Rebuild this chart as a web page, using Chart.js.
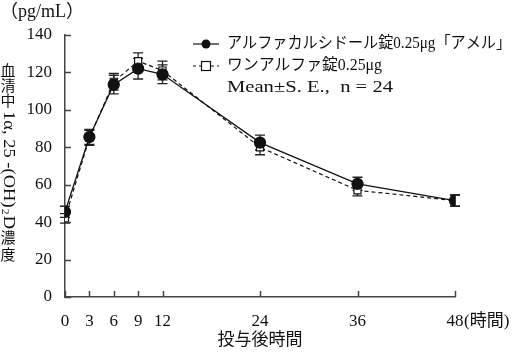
<!DOCTYPE html>
<html>
<head>
<meta charset="utf-8">
<script src="https://cdn.jsdelivr.net/npm/chart.js@4/dist/chart.umd.min.js"></script>
<style>
  html, body { margin: 0; padding: 0; background: #fff; }
  #wrap { width: 514px; height: 352px; }
</style>
</head>
<body>
<div id="wrap"><canvas id="c" width="514" height="352"></canvas></div>
<script>
// 投与後時間 (h)
const hours = [0, 3, 6, 9, 12, 24, 36, 48];
const xTicks = [0, 3, 6, 9, 12, 24, 36, 48];
const yTicks = [0, 20, 40, 60, 80, 100, 120, 140];

// アルファカルシドール錠0.25μg「アメル」
const ameruMean = [45.5, 85.5, 113.5, 122, 119, 82.5, 60.5, 51.5];
const ameruSE = [3, 4, 5, 5.5, 5, 4, 3.5, 3];
// ワンアルファ錠0.25μg
const oneMean = [42, 85, 115, 126, 121, 80, 57, 51.5];
const oneSE = [2.5, 4, 4.5, 4.5, 5, 4, 3, 3];

const serif = '"Liberation Serif", "DejaVu Serif", "Noto Sans CJK JP", serif';
const axisColor = "#444";

function pts(means) {
  return hours.map((h, i) => ({ x: h, y: means[i] }));
}

// 幅を合わせて文字を描く
function fitText(ctx, text, x, y, width) {
  const w = ctx.measureText(text).width;
  ctx.save();
  ctx.translate(x, y);
  ctx.scale(width / w, 1);
  ctx.fillText(text, 0, 0);
  ctx.restore();
}

// 誤差棒・目盛・文字
const extras = {
  id: "extras",
  beforeDatasetsDraw(chart) {
    const { ctx, scales } = chart;
    const xs = scales.x, ys = scales.y;
    ctx.save();
    ctx.strokeStyle = "#222";
    ctx.lineWidth = 1.3;
    [[oneMean, oneSE], [ameruMean, ameruSE]].forEach(([m, se]) => {
      hours.forEach((h, i) => {
        const px = xs.getPixelForValue(h);
        const top = ys.getPixelForValue(m[i] + se[i]);
        const bot = ys.getPixelForValue(m[i] - se[i]);
        ctx.beginPath();
        ctx.moveTo(px, top); ctx.lineTo(px, bot);
        ctx.moveTo(px - 5, top); ctx.lineTo(px + 5, top);
        ctx.moveTo(px - 5, bot); ctx.lineTo(px + 5, bot);
        ctx.stroke();
      });
    });
    ctx.restore();
  },
  afterDraw(chart) {
    const { ctx, scales, chartArea } = chart;
    const xs = scales.x, ys = scales.y;
    ctx.save();
    // 内向きの目盛
    ctx.strokeStyle = axisColor;
    ctx.lineWidth = 1.5;
    ctx.beginPath();
    yTicks.forEach(v => {
      const py = Math.round(ys.getPixelForValue(v)) + 0.5;
      ctx.moveTo(chartArea.left, py); ctx.lineTo(chartArea.left + 6, py);
    });
    xTicks.forEach(v => {
      const px = Math.round(xs.getPixelForValue(v)) + 0.5;
      ctx.moveTo(px, chartArea.bottom); ctx.lineTo(px, chartArea.bottom - 6);
    });
    ctx.stroke();

    ctx.fillStyle = "#111";
    ctx.textBaseline = "middle";
    // 単位
    ctx.font = "18px " + serif;
    ctx.textAlign = "left";
    ctx.fillText("（pg/mL）", 0, 12);
    // (時間)
    ctx.font = "17px " + serif;
    ctx.fillText("(時間)", xs.getPixelForValue(48) + 9, 322);
    // x軸タイトル
    ctx.font = "17px " + serif;
    ctx.textAlign = "center";
    ctx.fillText("投与後時間", xs.getPixelForValue(24), 341);

    // y軸タイトル（縦書き）
    const cx = 8;
    ctx.font = "15px " + serif;
    ctx.textAlign = "center";
    ["血", "清", "中"].forEach((ch, i) => ctx.fillText(ch, cx, 72 + i * 15));
    ["濃", "度"].forEach((ch, i) => ctx.fillText(ch, cx, 239 + i * 17));
    ctx.save();
    ctx.translate(cx, 111);
    ctx.rotate(Math.PI / 2);
    ctx.font = "16px " + serif;
    const a = "1α, 25 -(OH)";
    const wa = ctx.measureText(a).width;
    ctx.font = "10px " + serif;
    const w2 = ctx.measureText("2").width;
    ctx.font = "16px " + serif;
    const wd = ctx.measureText("D").width;
    const k = 118 / (wa + w2 + wd + 2);
    ctx.scale(k, 1);
    ctx.textAlign = "left";
    ctx.fillText(a, 0, 0);
    ctx.font = "10px " + serif;
    ctx.fillText("2", wa + 1, 3);
    ctx.font = "16px " + serif;
    ctx.fillText("D", wa + w2 + 2, 0);
    ctx.restore();

    // 凡例
    const lx = 193, rows = [44, 66];
    ctx.lineWidth = 1.2;
    ctx.strokeStyle = "#111";
    ctx.beginPath();
    ctx.moveTo(lx, rows[0]); ctx.lineTo(lx + 26, rows[0]);
    ctx.stroke();
    ctx.beginPath();
    ctx.arc(lx + 13, rows[0], 4.5, 0, Math.PI * 2);
    ctx.fill();
    ctx.setLineDash([3, 3]);
    ctx.beginPath();
    ctx.moveTo(lx, rows[1]); ctx.lineTo(lx + 26, rows[1]);
    ctx.stroke();
    ctx.setLineDash([]);
    ctx.fillStyle = "#fff";
    ctx.fillRect(lx + 8.5, rows[1] - 4.5, 9, 9);
    ctx.strokeRect(lx + 8.5, rows[1] - 4.5, 9, 9);
    ctx.fillStyle = "#111";
    ctx.textAlign = "left";
    ctx.font = "16px " + serif;
    fitText(ctx, "アルファカルシドール錠0.25μg「アメル」", lx + 34, rows[0], 284);
    fitText(ctx, "ワンアルファ錠0.25μg", lx + 34, rows[1], 155);
    ctx.font = "17px " + serif;
    fitText(ctx, "Mean±S. E.,  n = 24", lx + 34, 88, 166);
    ctx.restore();
  }
};

new Chart(document.getElementById("c"), {
  type: "line",
  data: {
    datasets: [
      {
        label: "ワンアルファ錠0.25μg",
        data: pts(oneMean),
        borderColor: "#111",
        borderWidth: 1.2,
        borderDash: [4, 3],
        pointStyle: "rect",
        pointRadius: 5,
        pointBackgroundColor: "#fff",
        pointBorderColor: "#111",
        pointBorderWidth: 1.2,
        tension: 0,
        order: 2
      },
      {
        label: "アルファカルシドール錠0.25μg「アメル」",
        data: pts(ameruMean),
        borderColor: "#111",
        borderWidth: 1.3,
        pointStyle: "circle",
        pointRadius: 5.5,
        pointBackgroundColor: "#111",
        pointBorderColor: "#111",
        tension: 0,
        order: 1
      }
    ]
  },
  options: {
    responsive: false,
    animation: false,
    layout: { padding: { left: 0, top: 35, right: 59, bottom: 0 } },
    plugins: { legend: { display: false }, tooltip: { enabled: false } },
    scales: {
      x: {
        type: "linear",
        min: 0,
        max: 48,
        afterBuildTicks: s => { s.ticks = xTicks.map(v => ({ value: v })); },
        afterFit: s => { s.height = 55; },
        grid: { display: false, drawTicks: false },
        border: { display: true, color: axisColor, width: 1.5 },
        ticks: { color: "#111", padding: 14, maxRotation: 0, font: { family: serif, size: 17 } }
      },
      y: {
        min: 0,
        max: 140,
        afterBuildTicks: s => { s.ticks = yTicks.map(v => ({ value: v })); },
        afterFit: s => { s.width = 65; },
        grid: { display: false, drawTicks: false },
        border: { display: true, color: axisColor, width: 1.5 },
        ticks: { color: "#111", padding: 13, font: { family: serif, size: 17 } }
      }
    }
  },
  plugins: [extras]
});
</script>
</body>
</html>
